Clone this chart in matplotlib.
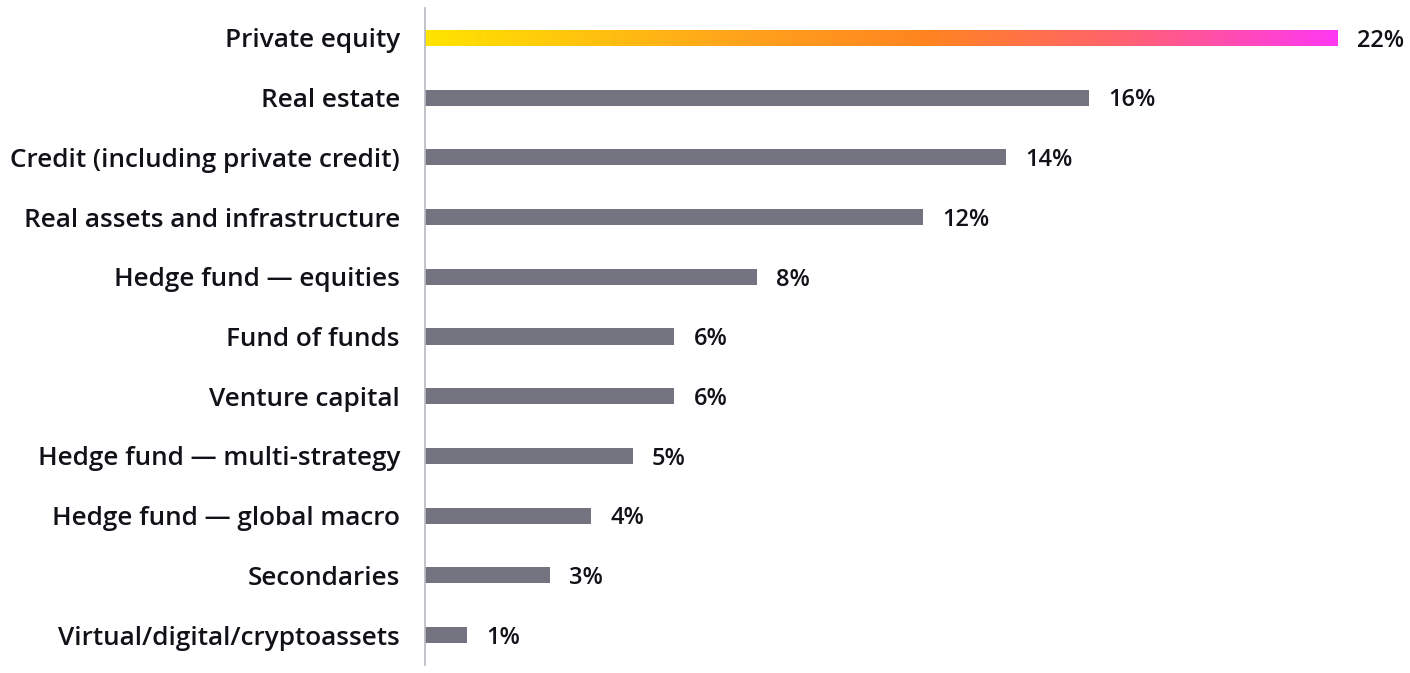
import matplotlib
matplotlib.use("Agg")
import matplotlib.pyplot as plt
import numpy as np
from matplotlib.colors import LinearSegmentedColormap

categories = [
    "Private equity",
    "Real estate",
    "Credit (including private credit)",
    "Real assets and infrastructure",
    "Hedge fund \u2014 equities",
    "Fund of funds",
    "Venture capital",
    "Hedge fund \u2014 multi-strategy",
    "Hedge fund \u2014 global macro",
    "Secondaries",
    "Virtual/digital/cryptoassets",
]
values = [22, 16, 14, 12, 8, 6, 6, 5, 4, 3, 1]

plt.rcParams["font.family"] = ["Open Sans", "DejaVu Sans"]

fig = plt.figure(figsize=(14.1, 6.73), dpi=100)
ax = fig.add_axes([425 / 1410, 8 / 673, 985 / 1410, 657 / 673])

y = np.arange(len(categories))
bars = ax.barh(y, values, height=0.27, color="#747480")

# gradient on the first bar
grad = LinearSegmentedColormap.from_list(
    "ey", [(0, "#FFE400"), (0.35, "#FFA21C"), (0.55, "#FF8420"),
           (0.75, "#FF6468"), (1.0, "#FF38F2")])
b0 = bars[0]
b0.set_facecolor("none")
img = ax.imshow(np.linspace(0, 1, 256).reshape(1, -1), cmap=grad, aspect="auto",
                extent=[0, values[0], b0.get_y() + b0.get_height(), b0.get_y()],
                zorder=2)
img.set_clip_path(b0)

for yi, v in zip(y, values):
    ax.annotate(f"{v}%", (v, yi), xytext=(14, -2), textcoords="offset points",
                ha="left", va="center", fontsize=17, fontweight="semibold", color="#111118")

ax.set_xlim(0, 985 / 41.5)
ax.set_ylim(10.5, -0.5)
ax.set_yticks(y)
ax.set_yticklabels(categories, fontsize=18.8, fontweight="semibold", color="#111118")
ax.tick_params(axis="y", length=0, pad=18)
ax.set_xticks([])
for s in ["top", "right", "bottom"]:
    ax.spines[s].set_visible(False)
ax.spines["left"].set_color("#b8b8c0")
ax.spines["left"].set_linewidth(1.2)

fig.savefig("out.png", dpi=100)
